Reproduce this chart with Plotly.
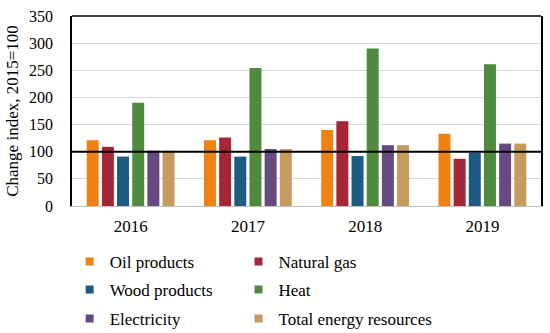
import plotly.graph_objects as go

years = ["2016", "2017", "2018", "2019"]
series_names = ["Oil products", "Natural gas", "Wood products", "Heat", "Electricity", "Total energy resources"]
oil = [121, 121, 140, 133]
gas = [109, 126, 156, 87]
wood = [91, 91, 92, 98]
heat = [190, 254, 290, 261]
elec = [102, 105, 112, 115]
total = [102, 105, 112, 115]
colors = ["#F08213", "#A52637", "#1B5C80", "#4F8A3F", "#644A7E", "#C79A5E"]
baseline = 100

values = [oil, gas, wood, heat, elec, total]
legend_ids = ["legend", "legend2", "legend3", "legend4", "legend5", "legend6"]
fig = go.Figure()
for name, vals, c in zip(series_names, values, colors):
    fig.add_trace(go.Bar(x=years, y=vals, name=name, marker_color=c,
                         marker_line_width=0, showlegend=False))
for name, c, lg in zip(series_names, colors, legend_ids):
    fig.add_trace(go.Scatter(x=[None], y=[None], mode="markers", name=name,
                             marker=dict(symbol="square", size=8, color=c),
                             legend=lg, showlegend=True))

fig.add_shape(type="line", xref="paper", yref="y", x0=0, x1=1, y0=baseline, y1=baseline,
              line=dict(color="black", width=2))
fig.add_shape(type="line", xref="paper", yref="paper", x0=0, x1=1, y0=1, y1=1,
              line=dict(color="black", width=1.5))

font = "Liberation Serif, Times New Roman, serif"
col_x = [-0.005, 0.355]
row_y = [-0.295, -0.442, -0.595]
legends = {}
for i, lg in enumerate(legend_ids):
    legends[lg] = dict(orientation="h", xanchor="left", x=col_x[i % 2], yanchor="middle",
                       y=row_y[i // 2], itemwidth=30,
                       font=dict(family=font, size=17), bgcolor="rgba(0,0,0,0)")

fig.update_layout(
    width=550, height=333,
    margin=dict(l=72, r=9, t=16, b=127, autoexpand=False),
    plot_bgcolor="white", paper_bgcolor="white",
    font=dict(family=font, size=17, color="black"),
    barmode="group", bargap=0.224, bargroupgap=0.21,
    showlegend=True,
    **legends,
    xaxis=dict(showline=True, linecolor="#BFBFBF", linewidth=1, ticks="",
               tickfont=dict(size=17), automargin=False, ticklabelstandoff=5),
    yaxis=dict(range=[0, 350], dtick=50, showline=True, linecolor="black", linewidth=1.5,
               mirror=True, showgrid=True, gridcolor="#D9D9D9", gridwidth=1,
               zeroline=False, ticks="", tickfont=dict(size=16), automargin=False,
               ticklabelstandoff=14,
               title=dict(text="Change index, 2015=100", font=dict(size=17), standoff=6)),
)
fig.write_html("out.html", config={"displayModeBar": False},
               post_script="document.body.style.margin='0';")
